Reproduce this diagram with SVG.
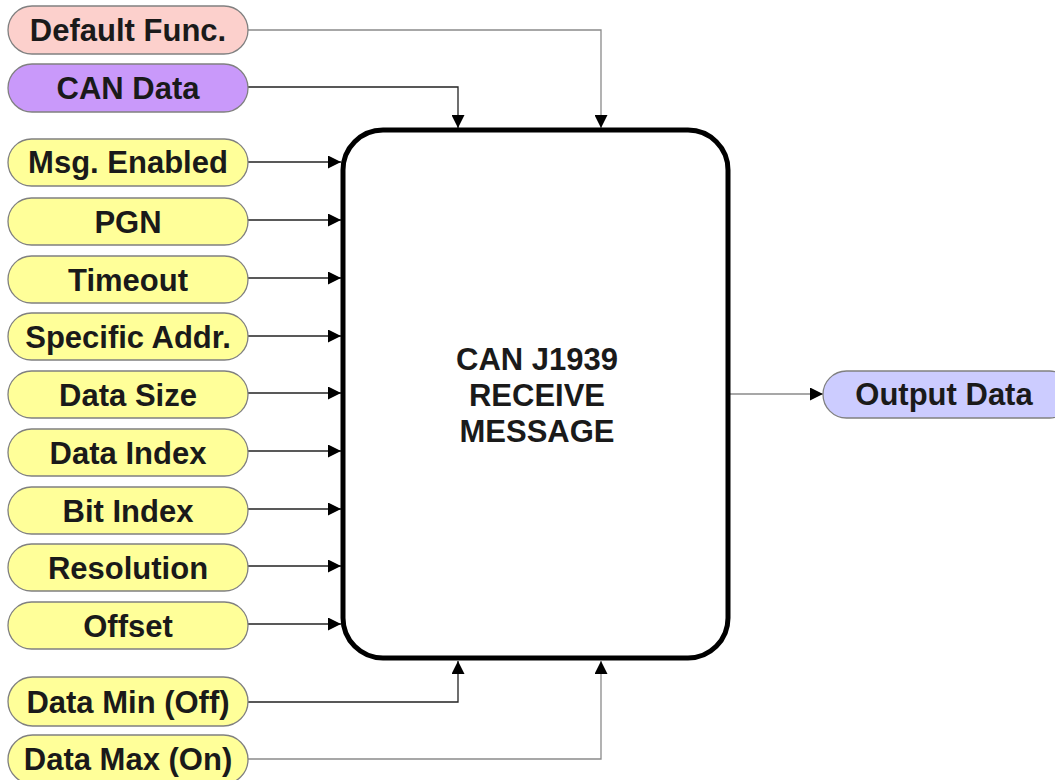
<svg xmlns="http://www.w3.org/2000/svg" width="1055" height="780" viewBox="0 0 1055 780">
<style>
.n{stroke:#808080;stroke-width:1.3}
.y{fill:#FFFF99}
.t{font-family:"Liberation Sans",Arial,sans-serif;font-weight:bold;font-size:31px;fill:#1a1a1a;text-anchor:middle}
.c{fill:none;stroke-width:1.3}
.dk{stroke:#222}
.gr{stroke:#8a8a8a}
</style>
<defs>
<marker id="ah" viewBox="0 0 13 13" refX="13" refY="6.5" markerWidth="13" markerHeight="13" markerUnits="userSpaceOnUse" orient="auto">
<path d="M0,0 L13,6.5 L0,13 Z" fill="#000"/>
</marker>
</defs>
<rect width="1055" height="780" fill="#fff"/>
<g id="connectors">
<path class="c gr" d="M248,30 H601 V128" marker-end="url(#ah)"/>
<path class="c dk" d="M248,87 H458 V128" marker-end="url(#ah)"/>
<path class="c dk" d="M248,162 H341" marker-end="url(#ah)"/>
<path class="c dk" d="M248,220 H341" marker-end="url(#ah)"/>
<path class="c dk" d="M248,278 H341" marker-end="url(#ah)"/>
<path class="c dk" d="M248,336 H341" marker-end="url(#ah)"/>
<path class="c dk" d="M248,393 H341" marker-end="url(#ah)"/>
<path class="c dk" d="M248,451 H341" marker-end="url(#ah)"/>
<path class="c dk" d="M248,509 H341" marker-end="url(#ah)"/>
<path class="c dk" d="M248,566 H341" marker-end="url(#ah)"/>
<path class="c dk" d="M248,624 H341" marker-end="url(#ah)"/>
<path class="c dk" d="M248,702 H458 V661" marker-end="url(#ah)"/>
<path class="c gr" d="M248,759 H601 V661" marker-end="url(#ah)"/>
<path class="c gr" d="M730,394 H823" marker-end="url(#ah)"/>
</g>
<g id="main">
<rect x="343" y="130" width="385" height="528" rx="40" ry="40" fill="#fff" stroke="#000" stroke-width="5"/>
<text class="t" x="537" y="370">CAN J1939</text>
<text class="t" x="537" y="406">RECEIVE</text>
<text class="t" x="537" y="442">MESSAGE</text>
</g>
<g id="default-func"><rect class="n" x="8" y="6" width="240" height="48" rx="24" fill="#FCD0CC"/><text class="t" x="128" y="41">Default Func.</text></g>
<g id="can-data"><rect class="n" x="8" y="64" width="240" height="48" rx="24" fill="#C999FA"/><text class="t" x="128" y="99">CAN Data</text></g>
<g id="msg-enabled"><rect class="n y" x="8" y="139" width="240" height="47" rx="23.5"/><text class="t" x="128" y="173">Msg. Enabled</text></g>
<g id="pgn"><rect class="n y" x="8" y="198" width="240" height="47" rx="23.5"/><text class="t" x="128" y="233">PGN</text></g>
<g id="timeout"><rect class="n y" x="8" y="256" width="240" height="47" rx="23.5"/><text class="t" x="128" y="291">Timeout</text></g>
<g id="specific-addr"><rect class="n y" x="8" y="313" width="240" height="47" rx="23.5"/><text class="t" x="128" y="348">Specific Addr.</text></g>
<g id="data-size"><rect class="n y" x="8" y="371" width="240" height="47" rx="23.5"/><text class="t" x="128" y="406">Data Size</text></g>
<g id="data-index"><rect class="n y" x="8" y="429" width="240" height="47" rx="23.5"/><text class="t" x="128" y="464">Data Index</text></g>
<g id="bit-index"><rect class="n y" x="8" y="487" width="240" height="47" rx="23.5"/><text class="t" x="128" y="522">Bit Index</text></g>
<g id="resolution"><rect class="n y" x="8" y="544" width="240" height="47" rx="23.5"/><text class="t" x="128" y="579">Resolution</text></g>
<g id="offset"><rect class="n y" x="8" y="602" width="240" height="47" rx="23.5"/><text class="t" x="128" y="637">Offset</text></g>
<g id="data-min"><rect class="n y" x="8" y="677" width="240" height="49" rx="24.5"/><text class="t" x="128" y="713">Data Min (Off)</text></g>
<g id="data-max"><rect class="n y" x="8" y="735" width="240" height="49" rx="24.5"/><text class="t" x="128" y="770">Data Max (On)</text></g>
<g id="output-data"><rect class="n" x="823" y="371" width="250" height="47" rx="23.5" fill="#CCCCFF"/><text class="t" x="944" y="405">Output Data</text></g>
</svg>
